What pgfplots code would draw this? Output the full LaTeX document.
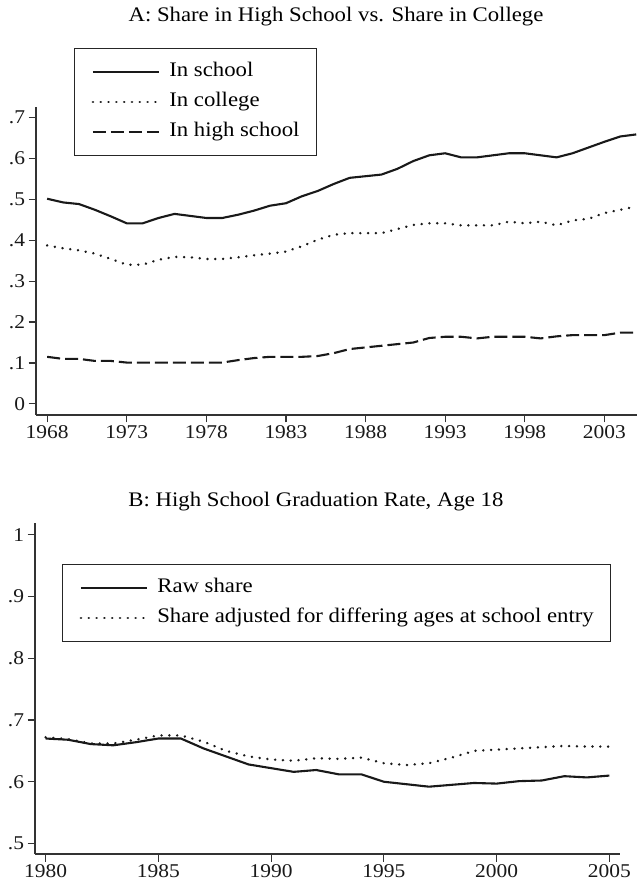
\documentclass[border=0pt]{standalone}
\usepackage{fontspec}
\setmainfont{Liberation Serif}[FakeStretch=1.1]
\usepackage{pgfplots}
\usepackage{pgfplotstable}
\pgfplotsset{compat=1.18}
\pgfplotstableread{
year school college high
1968 0.501 0.387 0.115
1969 0.492 0.380 0.110
1970 0.488 0.375 0.110
1971 0.474 0.367 0.105
1972 0.458 0.354 0.105
1973 0.441 0.340 0.101
1974 0.441 0.340 0.101
1975 0.454 0.352 0.101
1976 0.464 0.359 0.101
1977 0.459 0.358 0.101
1978 0.454 0.354 0.101
1979 0.454 0.354 0.101
1980 0.462 0.358 0.107
1981 0.472 0.363 0.112
1982 0.484 0.367 0.115
1983 0.490 0.372 0.115
1984 0.507 0.385 0.115
1985 0.520 0.401 0.117
1986 0.537 0.413 0.124
1987 0.552 0.417 0.134
1988 0.556 0.417 0.138
1989 0.560 0.417 0.142
1990 0.574 0.427 0.146
1991 0.593 0.437 0.150
1992 0.607 0.441 0.161
1993 0.612 0.441 0.164
1994 0.602 0.436 0.164
1995 0.602 0.436 0.160
1996 0.607 0.436 0.164
1997 0.612 0.445 0.164
1998 0.612 0.441 0.164
1999 0.607 0.445 0.160
2000 0.602 0.436 0.165
2001 0.612 0.448 0.168
2002 0.626 0.452 0.168
2003 0.640 0.466 0.168
2004 0.653 0.474 0.174
2005 0.658 0.482 0.174
}\tableA
\pgfplotstableread{
year raw adj
1980 0.670 0.672
1981 0.668 0.669
1982 0.661 0.662
1983 0.659 0.662
1984 0.664 0.668
1985 0.670 0.675
1986 0.670 0.675
1987 0.654 0.665
1988 0.641 0.650
1989 0.628 0.641
1990 0.622 0.636
1991 0.616 0.634
1992 0.619 0.638
1993 0.612 0.637
1994 0.612 0.639
1995 0.600 0.630
1996 0.596 0.627
1997 0.592 0.630
1998 0.595 0.639
1999 0.598 0.650
2000 0.597 0.652
2001 0.601 0.654
2002 0.602 0.656
2003 0.609 0.658
2004 0.607 0.657
2005 0.610 0.657
}\tableB
\newcommand{\fs}{\fontsize{20.7bp}{24bp}\selectfont}
\newcommand{\ft}{\fontsize{19.5bp}{23bp}\selectfont}
\begin{document}
\begin{tikzpicture}
\path[use as bounding box] (0bp,0bp) rectangle (637bp,888bp);
\pgfplotsset{
  mystyle/.style={
    scale only axis,
    axis x line*=bottom, axis y line*=left,
    axis line style={-, line width=1.1bp, color=black!80},
    every tick/.style={line width=1.1bp, color=black!80},
    tick align=outside,
    major tick length=7.5bp,
    tick label style={font=\ft, color=black!90},
    /pgf/number format/assume math mode=true,
    /pgf/number format/1000 sep={},
    clip=false,
    legend cell align=left,
    legend image code/.code={\draw[##1] (0bp,0bp) -- (66bp,0bp);},
  },
  legbox/.style={draw=black!85, line width=1.2bp, font=\fs,
    nodes={inner sep=0pt, text height=14bp, text depth=5bp},
    column sep=9bp, row sep=11bp, inner xsep=17bp, inner ysep=14bp},
  solidl/.style={black!90, line width=2.1bp},
  dotl/.style={black!90, line width=2.7bp, line cap=round, dash pattern=on 0.01bp off 7.8bp},
  dashl/.style={black!90, line width=2.1bp, dash pattern=on 13bp off 5bp},
}
\node[anchor=base, font=\fs] at (336bp, 866bp) {A: Share in High School vs. Share in College};
\begin{axis}[mystyle,
  at={(36bp,473bp)}, anchor=south west,
  width=601bp, height=308bp,
  xmin=1967.3, xmax=2005.05, ymin=-0.027, ymax=0.725,
  xtick={1968,1973,...,2003},
  ytick={0,0.1,0.2,0.3,0.4,0.5,0.6,0.7},
  yticklabels={0,.1,.2,.3,.4,.5,.6,.7},
  legend style={legbox, at={(rel axis cs:0.0632,1.1916)}, anchor=north west},
]
\addplot[solidl] table[x=year, y=school] {\tableA};
\addlegendentry{In school}
\addplot[dotl] table[x=year, y=college] {\tableA};
\addlegendentry{In college}
\addplot[dashl] table[x=year, y=high] {\tableA};
\addlegendentry{In high school}
\end{axis}
\node[anchor=base, font=\fs] at (316bp, 381bp) {B: High School Graduation Rate, Age 18};
\begin{axis}[mystyle,
  at={(35bp,34bp)}, anchor=south west,
  width=585bp, height=331bp,
  xmin=1979.53, xmax=2005.47, ymin=0.483, ymax=1.019,
  xtick={1980,1985,...,2005},
  ytick={0.5,0.6,0.7,0.8,0.9,1},
  yticklabels={.5,.6,.7,.8,.9,1},
  legend style={legbox, at={(rel axis cs:0.0462,0.876)}, anchor=north west},
]
\addplot[solidl] table[x=year, y=raw] {\tableB};
\addlegendentry{Raw share}
\addplot[dotl] table[x=year, y=adj] {\tableB};
\addlegendentry{Share adjusted for differing ages at school entry}
\end{axis}
\end{tikzpicture}
\end{document}
